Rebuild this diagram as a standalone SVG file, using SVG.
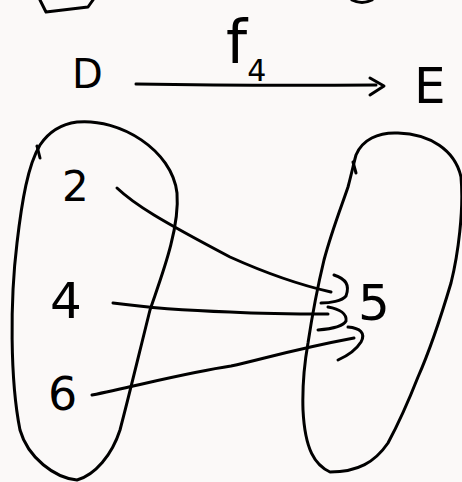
<svg xmlns="http://www.w3.org/2000/svg" width="462" height="482" viewBox="0 0 462 482">
<style>
.s{fill:none;stroke:#000;stroke-width:3;stroke-linecap:round;stroke-linejoin:round}
.t{font-family:"DejaVu Sans","Liberation Sans",sans-serif;fill:#000}
</style>
<rect width="462" height="482" fill="#fbf9f8"/>
<g id="fragments">
<path class="s" d="M40 0 L46 12 L88 7 L93 0"/>
<path class="s" d="M352 0 Q362 5 372 0"/>
</g>
<g id="title">
<text class="t" x="72" y="88" font-size="40">D</text>
<text class="t" x="414" y="103" font-size="50">E</text>
<text class="t" x="226" y="63" font-size="60">f<tspan font-size="30" dy="18">4</tspan></text>
<path class="s" d="M136 84 Q250 86 376 85"/>
<path class="s" d="M370 78 L384 86 L370 95"/>
</g>
<g id="setD">
<path class="s" d="M77 122 C120 118 172 150 177 193 C180 230 160 280 150 310 C140 350 128 400 120 430 C112 455 95 475 77 480 C55 478 28 458 20 430 C10 380 10 300 17 243 C22 200 28 165 40 145 C50 130 62 124 77 122 Z"/>
<path class="s" d="M37 146 L40 158"/>
<text class="t" x="62" y="201" font-size="42">2</text>
<text class="t" x="50" y="318" font-size="50">4</text>
<text class="t" x="48" y="410" font-size="46">6</text>
</g>
<g id="setE">
<path class="s" d="M398 133 C430 134 455 150 461 177 C464 210 458 255 451 283 C440 320 430 350 418 377 C405 410 395 430 388 443 C375 462 358 472 330 472 C315 465 305 450 303 410 C302 380 305 360 308 343 C313 310 318 285 324 260 C332 230 342 205 348 187 C352 172 354 162 356 155 C362 140 378 132 398 133 Z"/>
<path class="s" d="M353 162 L356 173"/>
<text class="t" x="358" y="320" font-size="50">5</text>
</g>
<g id="connectors">
<path class="s" d="M117 188 C135 205 160 220 230 257 C270 275 300 285 331 292"/>
<path class="s" d="M113 303 C150 308 200 311 230 312 C270 314 300 314 328 314"/>
<path class="s" d="M92 395 C140 385 190 372 231 366 C260 360 290 350 354 338"/>
<path class="s" d="M334 275 C346 279 350 285 346 296 C342 301 330 303 321 303"/>
<path class="s" d="M328 307 C340 309 347 314 346 321 C343 327 330 329 318 330"/>
<path class="s" d="M348 327 C360 328 366 333 361 342 C356 350 347 356 338 360"/>
</g>
</svg>
